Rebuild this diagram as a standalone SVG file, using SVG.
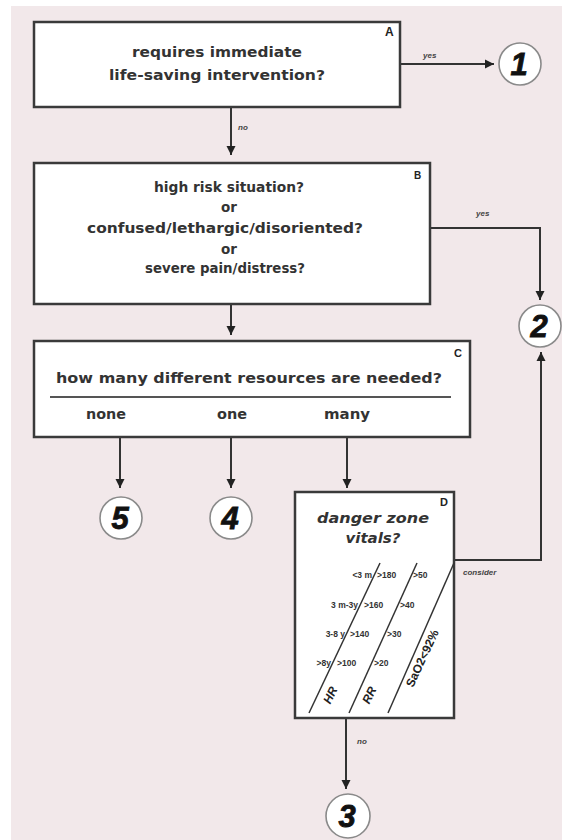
<svg xmlns="http://www.w3.org/2000/svg" width="562" height="840" viewBox="0 0 562 840">
<style>
.box{fill:#fff;stroke:#3a3a3a;stroke-width:2.5}
.t{font-family:"DejaVu Sans",Verdana,sans-serif;font-weight:bold;fill:#333;text-anchor:middle;font-size:14.5px}
.tb{font-family:"DejaVu Sans",Verdana,sans-serif;font-weight:bold;fill:#333;text-anchor:middle;font-size:13.5px}
.lbl{font-family:"Liberation Sans",Arial,sans-serif;font-weight:bold;fill:#222;font-size:12px}
.sm{font-family:"Liberation Sans",Arial,sans-serif;font-weight:bold;font-style:italic;fill:#444;font-size:8px}
.it{font-family:"DejaVu Sans",Verdana,sans-serif;font-weight:bold;font-style:italic;fill:#333;text-anchor:middle;font-size:14.5px}
.v{font-family:"Liberation Sans",Arial,sans-serif;font-weight:bold;fill:#333;font-size:8.5px}
.vb{font-family:"Liberation Sans",Arial,sans-serif;font-weight:bold;font-style:italic;fill:#222;font-size:12px;text-anchor:middle}
.circ{fill:#fff;stroke:#8a8a8a;stroke-width:1.6}
.num{font-family:"Liberation Sans",Arial,sans-serif;font-weight:bold;font-style:italic;fill:#111;stroke:#111;stroke-width:0.8;font-size:31px;text-anchor:middle}
.con{fill:none;stroke:#333;stroke-width:2}
.sl{stroke:#333;stroke-width:1.5}
</style>
<defs>
<marker id="ah" markerUnits="userSpaceOnUse" markerWidth="10" markerHeight="10" refX="9" refY="5" orient="auto">
<path d="M0,0.5 L9,5 L0,9.5 z" fill="#222"/>
</marker>
</defs>
<rect x="11" y="6" width="551" height="834" fill="#f2e8ea"/>

<g id="connectors">
<line class="con" x1="400" y1="64" x2="494" y2="64" marker-end="url(#ah)"/>
<line class="con" x1="231" y1="107" x2="231" y2="155" marker-end="url(#ah)"/>
<polyline class="con" points="430,228 540,228 540,300" marker-end="url(#ah)"/>
<line class="con" x1="231" y1="304" x2="231" y2="335" marker-end="url(#ah)"/>
<line class="con" x1="120" y1="437" x2="120" y2="488" marker-end="url(#ah)"/>
<line class="con" x1="231" y1="437" x2="231" y2="488" marker-end="url(#ah)"/>
<line class="con" x1="347" y1="437" x2="347" y2="488" marker-end="url(#ah)"/>
<polyline class="con" points="454,560 541,560 541,352" marker-end="url(#ah)"/>
<line class="con" x1="346" y1="718" x2="346" y2="789" marker-end="url(#ah)"/>
<text class="sm" x="423" y="58">yes</text>
<text class="sm" x="238" y="130">no</text>
<text class="sm" x="476" y="216">yes</text>
<text class="sm" x="463" y="575">consider</text>
<text class="sm" x="357" y="744">no</text>
</g>

<g id="A">
<rect class="box" x="34" y="22" width="366" height="85"/>
<text class="t" x="217" y="57" textLength="170" lengthAdjust="spacingAndGlyphs">requires immediate</text>
<text class="t" x="217" y="80" textLength="216" lengthAdjust="spacingAndGlyphs">life-saving intervention?</text>
<text class="lbl" x="385" y="36">A</text>
</g>

<g id="B">
<rect class="box" x="34" y="163" width="396" height="141"/>
<text class="tb" x="229" y="192" textLength="150" lengthAdjust="spacingAndGlyphs">high risk situation?</text>
<text class="tb" x="229" y="212">or</text>
<text class="tb" x="225" y="233" textLength="276" lengthAdjust="spacingAndGlyphs">confused/lethargic/disoriented?</text>
<text class="tb" x="229" y="254">or</text>
<text class="tb" x="225" y="273" textLength="160" lengthAdjust="spacingAndGlyphs">severe pain/distress?</text>
<text class="lbl" x="414" y="179" style="font-size:10px">B</text>
</g>

<g id="C">
<rect class="box" x="34" y="341" width="436" height="96"/>
<text class="t" x="249" y="383" textLength="386" lengthAdjust="spacingAndGlyphs">how many different resources are needed?</text>
<line x1="50" y1="397" x2="451" y2="397" stroke="#555" stroke-width="2"/>
<text class="t" x="106" y="419" textLength="40" lengthAdjust="spacingAndGlyphs">none</text>
<text class="t" x="232" y="419" textLength="30" lengthAdjust="spacingAndGlyphs">one</text>
<text class="t" x="347" y="419" textLength="46" lengthAdjust="spacingAndGlyphs">many</text>
<text class="lbl" x="454" y="357" style="font-size:11px">C</text>
</g>

<g id="D">
<rect class="box" x="295" y="492" width="159" height="226"/>
<text class="lbl" x="440" y="506" style="font-size:11px">D</text>
<text class="it" x="373" y="523" textLength="112" lengthAdjust="spacingAndGlyphs">danger zone</text>
<text class="it" x="373" y="543" textLength="55" lengthAdjust="spacingAndGlyphs">vitals?</text>
<line class="sl" x1="380" y1="563" x2="309" y2="713"/>
<line class="sl" x1="417" y1="563" x2="349" y2="713"/>
<line class="sl" x1="454" y1="563" x2="388" y2="713"/>
<text class="v" x="372" y="578" text-anchor="end">&lt;3 m</text>
<text class="v" x="377" y="578">&gt;180</text>
<text class="v" x="413" y="578">&gt;50</text>
<text class="v" x="358" y="608" text-anchor="end">3 m-3y</text>
<text class="v" x="364" y="608">&gt;160</text>
<text class="v" x="400" y="608">&gt;40</text>
<text class="v" x="345" y="637" text-anchor="end">3-8 y</text>
<text class="v" x="350" y="637">&gt;140</text>
<text class="v" x="387" y="637">&gt;30</text>
<text class="v" x="331" y="666" text-anchor="end">&gt;8y</text>
<text class="v" x="337" y="666">&gt;100</text>
<text class="v" x="374" y="666">&gt;20</text>
<text class="vb" transform="translate(334,697) rotate(-65)">HR</text>
<text class="vb" transform="translate(373,697) rotate(-65)">RR</text>
<text class="vb" transform="translate(426,660) rotate(-65)" style="font-style:normal">SaO2&lt;92%</text>
</g>

<g id="n1"><circle class="circ" cx="520" cy="64" r="21"/><text class="num" x="519" y="75">1</text></g>
<g id="n2"><circle class="circ" cx="540" cy="326" r="21"/><text class="num" x="539" y="337">2</text></g>
<g id="n5"><circle class="circ" cx="121" cy="518" r="21"/><text class="num" x="120" y="529">5</text></g>
<g id="n4"><circle class="circ" cx="231" cy="518" r="21"/><text class="num" x="230" y="529">4</text></g>
<g id="n3"><circle class="circ" cx="348" cy="816" r="22"/><text class="num" x="347" y="827">3</text></g>
</svg>
